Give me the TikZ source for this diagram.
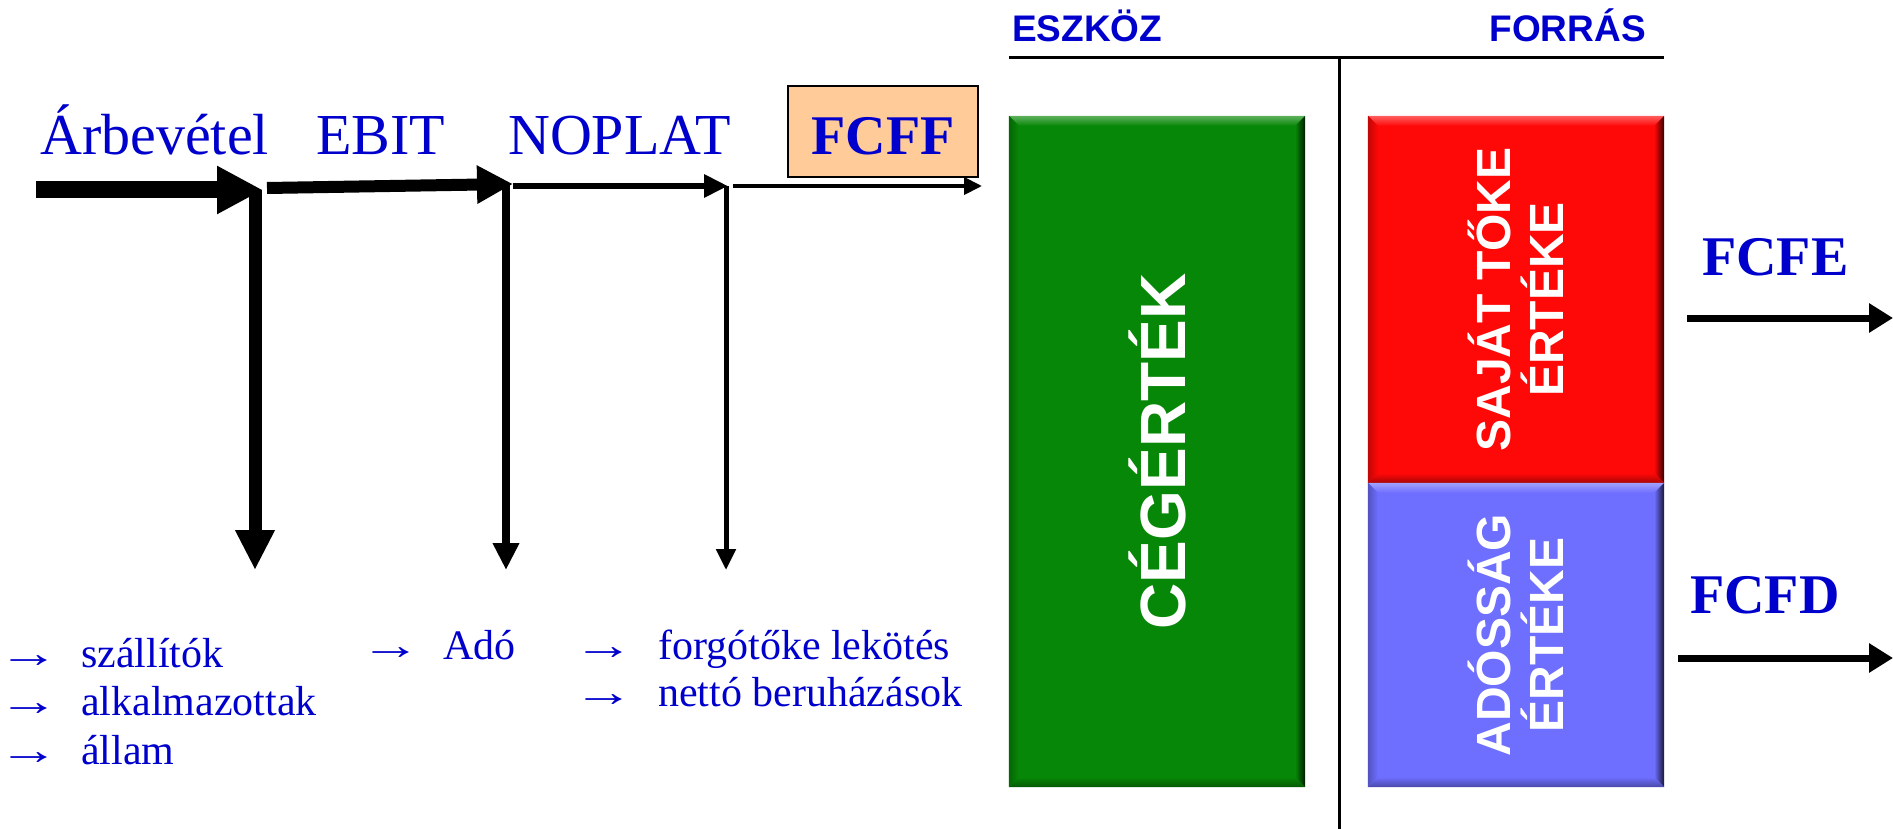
\documentclass[tikz,border=0pt]{standalone}
\usepackage{fontspec}
\setmainfont{Liberation Serif}
\setsansfont{Liberation Sans}
\usetikzlibrary{arrows.meta}

\definecolor{txtblue}{RGB}{0,0,204}
\definecolor{fcffbg}{RGB}{255,204,153}
\definecolor{firmgreen}{RGB}{7,135,7}
\definecolor{eqred}{RGB}{255,8,8}
\definecolor{debtblue}{RGB}{110,110,255}

% bevelled block: lighter top edge, dark right edge
\newcommand\bevelblock[2]{%
  \shade[top color=#2!65!white, bottom color=#2] (#1.north west) -- (#1.north east) -- ([shift={(-10,10)}]#1.north east) -- ([shift={(10,10)}]#1.north west) -- cycle;
  \shade[left color=#2, right color=#2!20!black] (#1.north east) -- (#1.south east) -- ([shift={(-10,-10)}]#1.south east) -- ([shift={(-10,10)}]#1.north east) -- cycle;
  \shade[top color=#2, bottom color=#2!65!black] (#1.south west) -- (#1.south east) -- ([shift={(-10,-10)}]#1.south east) -- ([shift={(10,-10)}]#1.south west) -- cycle;
  \shade[left color=#2!75!black, right color=#2] (#1.north west) -- (#1.south west) -- ([shift={(10,-10)}]#1.south west) -- ([shift={(10,10)}]#1.north west) -- cycle;
}

\tikzset{
  flowtxt/.style={font=\fontsize{58}{64}\selectfont, text=txtblue, inner sep=0pt, anchor=base west},
  cashtxt/.style={font=\bfseries\fontsize{56}{60}\selectfont, text=txtblue, inner sep=0pt},
  listtxt/.style={font=\fontsize{42}{48}\selectfont, text=txtblue, inner sep=0pt, anchor=base west},
  headtxt/.style={font=\sffamily\bfseries\fontsize{37}{40}\selectfont, text=txtblue, inner sep=0pt},
  block/.style={draw=none, inner sep=0pt, minimum width=296pt},
  blocklabel/.style={font=\sffamily\bfseries\fontsize{48}{53}\selectfont, text=white, rotate=90, align=center, inner sep=0pt},
  rule/.style={line width=3pt, draw=black},
}
% list bullet arrow, drawn long and thin
\newcommand\listarrow[1]{\makebox[#1][l]{\hspace*{-11pt}\scalebox{1.45}[1]{→}}}

\begin{document}
\begin{tikzpicture}[x=1pt,y=-1pt]
\useasboundingbox (0,0) rectangle (1893,829);

% ---- balance sheet frame ----
\coordinate (hl) at (1009,58);
\coordinate (hr) at (1664,58);
\coordinate (vt) at (1339,58);
\coordinate (vb) at (1339,829);
\draw[rule] (hl) -- (hr);
\draw[rule] (vt) -- (vb);
\node[headtxt, anchor=base west] (eszkoz) at (1012,42) {ESZKÖZ};
\node[headtxt, anchor=base east] (forras) at (1646,42) {FORRÁS};

% ---- value blocks ----
\node[block, fill=firmgreen, minimum height=671pt] (firm) at (1157,451.5) {};
\bevelblock{firm}{firmgreen}
\node[blocklabel, font=\sffamily\bfseries\fontsize{64}{70}\selectfont] (firmlbl) at (firm.center) {CÉGÉRTÉK};

\node[block, fill=eqred, minimum height=367pt] (equity) at (1516,299.5) {};
\bevelblock{equity}{eqred}
\node[blocklabel] (equitylbl) at (equity.center) {SAJÁT TŐKE\\ÉRTÉKE};

\node[block, fill=debtblue, minimum height=304pt] (debt) at (1516,635) {};
\bevelblock{debt}{debtblue}
\node[blocklabel] (debtlbl) at (debt.center) {ADÓSSÁG\\ÉRTÉKE};

% ---- cash flows to owners ----
\node[cashtxt, anchor=base west] (fcfe) at (1702,275) {FCFE};
\node[cashtxt, anchor=base west] (fcfd) at (1690,613) {FCFD};
\coordinate (fcfeA) at (1687,318);
\coordinate (fcfeB) at (1893,318);
\coordinate (fcfdA) at (1678,658);
\coordinate (fcfdB) at (1893,658);
\draw[line width=7pt, -{Triangle[length=24pt,width=28pt]}] (fcfeA) -- (fcfeB);
\draw[line width=7pt, -{Triangle[length=24pt,width=28pt]}] (fcfdA) -- (fcfdB);

% ---- income flow ----
\node[flowtxt] (rev) at (40,155) {Árbevétel};
\node[flowtxt] (ebit) at (316,155) {EBIT};
\node[flowtxt] (noplat) at (508,155) {NOPLAT};
\node[draw=black, line width=2.5pt, fill=fcffbg, minimum width=190pt, minimum height=91pt, inner sep=0pt] (fcffbox) at (883,131.5) {};
\node[cashtxt, anchor=base] (fcff) at (883,155) {FCFF};

\coordinate (s0) at (36,190);
\coordinate (t1) at (263,190);
\coordinate (s1) at (267,188);
\coordinate (t2) at (513,184);
\coordinate (s2) at (513,186);
\coordinate (t3) at (728,186);
\coordinate (s3) at (733,186);
\coordinate (t4) at (982,186);

\coordinate (d1) at (255,190);
\coordinate (e1) at (255,570);
\coordinate (d2) at (506,184);
\coordinate (e2) at (506,570);
\coordinate (d3) at (726,186);
\coordinate (e3) at (726,570);

\draw[line width=13pt, -{Triangle[length=40pt,width=37pt]}] (d1) -- (e1);
\draw[line width=8pt, -{Triangle[length=27pt,width=25pt]}] (d2) -- (e2);
\draw[line width=5pt, -{Triangle[length=21pt,width=19pt]}] (d3) -- (e3);

\draw[line width=17pt, -{Triangle[length=46pt,width=45pt]}] (s0) -- (t1);
\draw[line width=12pt, -{Triangle[length=36pt,width=36pt]}] (s1) -- (t2);
\draw[line width=6pt, -{Triangle[length=24pt,width=22pt]}] (s2) -- (t3);
\draw[line width=4pt, -{Triangle[length=18pt,width=17pt]}] (s3) -- (t4);

% ---- where the money goes ----
\node[listtxt] (sup) at (9,667) {\listarrow{72pt}szállítók};
\node[listtxt] (emp) at (9,715) {\listarrow{72pt}alkalmazottak};
\node[listtxt] (gov) at (9,764) {\listarrow{72pt}állam};
\node[listtxt] (tax) at (371,659) {\listarrow{72pt}Adó};
\node[listtxt] (wc) at (584,659) {\listarrow{74pt}forgótőke lekötés};
\node[listtxt] (capex) at (584,706) {\listarrow{74pt}nettó beruházások};
\end{tikzpicture}
\end{document}
